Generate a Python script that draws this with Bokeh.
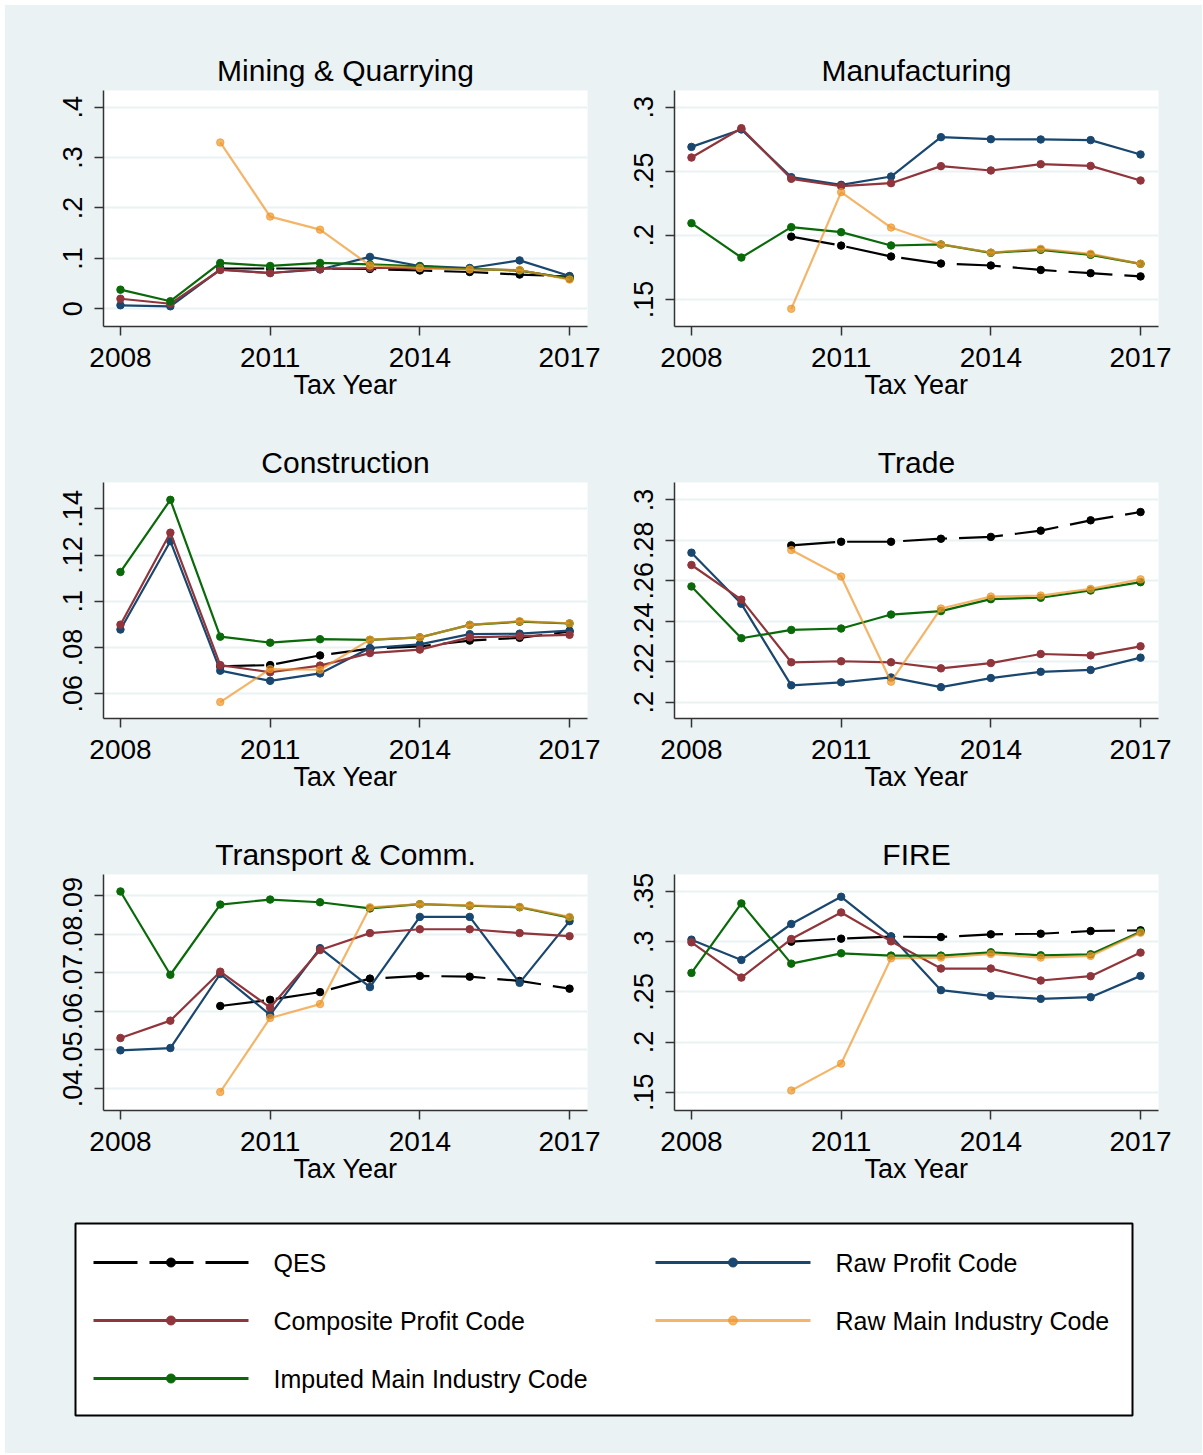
import numpy as np
from bokeh.plotting import figure
from bokeh.layouts import column, row
from bokeh.models import Range1d, FixedTicker, CustomJSTickFormatter, ColumnDataSource
from bokeh.core.properties import value
from bokeh.embed import file_html
from bokeh.resources import INLINE

# ---------------- data ----------------
years = [2008, 2009, 2010, 2011, 2012, 2013, 2014, 2015, 2016, 2017]
x_ticks = [2008, 2011, 2014, 2017]
series_names = ["QES", "Raw Profit Code", "Composite Profit Code",
                "Raw Main Industry Code", "Imputed Main Industry Code"]
panel_titles = ["Mining & Quarrying", "Manufacturing", "Construction",
                "Trade", "Transport & Comm.", "FIRE"]
x_title = "Tax Year"

mining_qes = [None, None, 0.080, 0.080, 0.080, 0.079, 0.076, 0.073, 0.068, 0.064]
mining_raw_profit = [0.007, 0.005, 0.078, 0.071, 0.078, 0.103, 0.085, 0.081, 0.096, 0.065]
mining_composite = [0.020, 0.010, 0.077, 0.071, 0.079, 0.081, 0.081, 0.079, 0.076, 0.060]
mining_raw_main = [None, None, 0.330, 0.183, 0.157, 0.086, 0.081, 0.078, 0.077, 0.058]
mining_imputed = [0.038, 0.015, 0.091, 0.085, 0.091, 0.088, 0.084, 0.079, 0.076, 0.060]

manuf_qes = [None, None, 0.199, 0.192, 0.1835, 0.178, 0.1765, 0.173, 0.1705, 0.168]
manuf_raw_profit = [0.269, 0.2826, 0.2454, 0.2394, 0.2459, 0.2766, 0.2750, 0.2748, 0.2743, 0.2631]
manuf_composite = [0.2607, 0.2836, 0.2441, 0.2384, 0.2407, 0.2540, 0.2506, 0.2555, 0.2542, 0.2428]
manuf_raw_main = [None, None, 0.1427, 0.2337, 0.2061, 0.1929, 0.1866, 0.1895, 0.1856, 0.1778]
manuf_imputed = [0.2095, 0.1827, 0.2064, 0.2025, 0.1921, 0.1929, 0.1864, 0.1887, 0.1848, 0.1778]

constr_qes = [None, None, 0.0719, 0.0724, 0.0766, 0.0795, 0.0805, 0.0830, 0.0842, 0.0869]
constr_raw_profit = [0.0878, 0.1260, 0.0700, 0.0656, 0.0688, 0.0798, 0.0814, 0.0858, 0.0860, 0.0873]
constr_composite = [0.0899, 0.1297, 0.0724, 0.0693, 0.0722, 0.0776, 0.0791, 0.0844, 0.0849, 0.0855]
constr_raw_main = [None, None, 0.0564, 0.0707, 0.0704, 0.0834, 0.0844, 0.0898, 0.0914, 0.0905]
constr_imputed = [0.1127, 0.1439, 0.0847, 0.0821, 0.0836, 0.0833, 0.0844, 0.0898, 0.0912, 0.0904]

trade_qes = [None, None, 0.2775, 0.2793, 0.2793, 0.2808, 0.2817, 0.2848, 0.2899, 0.2940]
trade_raw_profit = [0.2739, 0.2486, 0.2083, 0.2098, 0.2122, 0.2074, 0.2119, 0.2150, 0.2159, 0.2220]
trade_composite = [0.2678, 0.2507, 0.2197, 0.2202, 0.2197, 0.2167, 0.2193, 0.2238, 0.2231, 0.2276]
trade_raw_main = [None, None, 0.2752, 0.2621, 0.2101, 0.2463, 0.2522, 0.2527, 0.2560, 0.2607]
trade_imputed = [0.2572, 0.2316, 0.2357, 0.2364, 0.2433, 0.2450, 0.2509, 0.2516, 0.2552, 0.2593]

transp_qes = [None, None, 0.0614, 0.0630, 0.0650, 0.0685, 0.0692, 0.0690, 0.0679, 0.0659]
transp_raw_profit = [0.0499, 0.0505, 0.0697, 0.0591, 0.0764, 0.0663, 0.0845, 0.0845, 0.0674, 0.0834]
transp_composite = [0.0531, 0.0576, 0.0703, 0.0610, 0.0759, 0.0803, 0.0813, 0.0813, 0.0803, 0.0795]
transp_raw_main = [None, None, 0.0391, 0.0583, 0.0619, 0.0870, 0.0878, 0.0875, 0.0871, 0.0845]
transp_imputed = [0.0911, 0.0695, 0.0877, 0.0890, 0.0883, 0.0867, 0.0878, 0.0874, 0.0870, 0.0843]

fire_qes = [None, None, 0.3000, 0.3030, 0.3050, 0.3046, 0.3073, 0.3079, 0.3106, 0.3113]
fire_raw_profit = [0.3020, 0.2818, 0.3176, 0.3447, 0.3053, 0.2517, 0.2460, 0.2430, 0.2447, 0.2659]
fire_composite = [0.2993, 0.2642, 0.3026, 0.3291, 0.3003, 0.2732, 0.2732, 0.2613, 0.2656, 0.2891]
fire_raw_main = [None, None, 0.1517, 0.1785, 0.2834, 0.2841, 0.2877, 0.2841, 0.2858, 0.3089]
fire_imputed = [0.2689, 0.3381, 0.2781, 0.2884, 0.2861, 0.2861, 0.2894, 0.2864, 0.2874, 0.3099]

mining_yticks = [0, 0.1, 0.2, 0.3, 0.4]
manuf_yticks = [0.15, 0.2, 0.25, 0.3]
constr_yticks = [0.06, 0.08, 0.1, 0.12, 0.14]
trade_yticks = [0.2, 0.22, 0.24, 0.26, 0.28, 0.3]
transp_yticks = [0.04, 0.05, 0.06, 0.07, 0.08, 0.09]
fire_yticks = [0.15, 0.2, 0.25, 0.3, 0.35]

panels = [
    (panel_titles[0], [mining_qes, mining_raw_profit, mining_composite, mining_raw_main, mining_imputed], mining_yticks, (-0.0351, 0.4331)),
    (panel_titles[1], [manuf_qes, manuf_raw_profit, manuf_composite, manuf_raw_main, manuf_imputed], manuf_yticks, (0.1289, 0.3130)),
    (panel_titles[2], [constr_qes, constr_raw_profit, constr_composite, constr_raw_main, constr_imputed], constr_yticks, (0.0493, 0.1514)),
    (panel_titles[3], [trade_qes, trade_raw_profit, trade_composite, trade_raw_main, trade_imputed], trade_yticks, (0.1919, 0.3086)),
    (panel_titles[4], [transp_qes, transp_raw_profit, transp_composite, transp_raw_main, transp_imputed], transp_yticks, (0.0343, 0.0955)),
    (panel_titles[5], [fire_qes, fire_raw_profit, fire_composite, fire_raw_main, fire_imputed], fire_yticks, (0.1318, 0.3669)),
]

# ---------------- styles ----------------
BG = "#eaf2f3"
FONT = "Liberation Sans"
styles = {
    "QES": dict(color="black", alpha=1.0, dash="44 12"),
    "Raw Profit Code": dict(color="#1a476f", alpha=1.0, dash="solid"),
    "Composite Profit Code": dict(color="#90353b", alpha=1.0, dash="solid"),
    "Raw Main Industry Code": dict(color="#f0962a", alpha=0.7, dash="solid"),
    "Imputed Main Industry Code": dict(color="#0a6a0a", alpha=1.0, dash="solid"),
}
draw_order = [0, 1, 2, 4, 3]

yfmt_code = """
let s = (Math.round(tick*1000)/1000).toString();
if (s.startsWith('0.')) { s = s.slice(1); }
return s;
"""


def make_panel(title, series, yticks, yr, left_border, right_border, top_border):
    p = figure(frame_width=484, frame_height=236,
               min_border_left=left_border, min_border_right=right_border,
               min_border_top=top_border, min_border_bottom=79,
               x_range=Range1d(2007.66, 2017.36), y_range=Range1d(*yr),
               output_backend="svg", toolbar_location=None, title=title)
    p.background_fill_color = "white"
    p.border_fill_color = BG
    p.outline_line_color = None
    p.title.text_font = FONT
    p.title.text_font_size = "30px"
    p.title.text_font_style = "normal"
    p.title.text_color = "black"
    p.title.align = "center"
    p.title.standoff = 7

    p.xgrid.grid_line_color = None
    p.ygrid.grid_line_color = BG
    p.ygrid.grid_line_width = 2

    xa = p.xaxis[0]
    xa.ticker = FixedTicker(ticks=x_ticks)
    xa.axis_label = x_title
    xa.axis_label_text_font = FONT
    xa.axis_label_text_font_size = "27px"
    xa.axis_label_text_font_style = "normal"
    xa.axis_label_text_color = "black"
    xa.axis_label_standoff = 0
    xa.major_label_text_font = FONT
    xa.major_label_text_font_size = "28px"
    xa.major_label_text_color = "black"
    xa.major_label_standoff = 12
    xa.major_tick_out = 9
    xa.major_tick_in = 0
    xa.minor_tick_line_color = None
    xa.axis_line_color = "#333333"
    xa.axis_line_width = 1.5
    xa.major_tick_line_color = "#333333"
    xa.major_tick_line_width = 1.5

    ya = p.yaxis[0]
    ya.ticker = FixedTicker(ticks=yticks)
    ya.formatter = CustomJSTickFormatter(code=yfmt_code)
    ya.major_label_orientation = "vertical"
    ya.major_label_text_font = FONT
    ya.major_label_text_font_size = "27px"
    ya.major_label_text_color = "black"
    ya.major_label_standoff = 12
    ya.major_tick_out = 9
    ya.major_tick_in = 0
    ya.minor_tick_line_color = None
    ya.axis_line_color = "#333333"
    ya.axis_line_width = 1.5
    ya.major_tick_line_color = "#333333"
    ya.major_tick_line_width = 1.5

    for i in draw_order:
        name = series_names[i]
        st = styles[name]
        yv = np.array([np.nan if v is None else v for v in series[i]], dtype=float)
        src = ColumnDataSource(dict(x=years, y=yv))
        p.line("x", "y", source=src, line_color=st["color"], line_alpha=st["alpha"],
               line_width=2.2, line_dash=st["dash"])
        p.scatter("x", "y", source=src, size=7.5, fill_color=st["color"],
                  line_color=st["color"], fill_alpha=st["alpha"], line_alpha=st["alpha"])
    return p


figs = []
for k, (title, series, yticks, yr) in enumerate(panels):
    top = 85 if k < 2 else 77
    if k % 2 == 0:
        figs.append(make_panel(title, series, yticks, yr, 98, 15, top))
    else:
        figs.append(make_panel(title, series, yticks, yr, 72, 44, top))

# ---------------- legend ----------------
LW, LH = 1197, 264
leg = figure(width=LW, height=LH, x_range=Range1d(0, LW), y_range=Range1d(LH, 0),
             output_backend="svg", toolbar_location=None,
             min_border=0, min_border_left=0, min_border_right=0,
             min_border_top=0, min_border_bottom=0)
leg.axis.visible = False
leg.grid.visible = False
leg.outline_line_color = None
leg.background_fill_color = BG
leg.border_fill_color = BG

leg.quad(left=[70], right=[1127], top=[34], bottom=[226], fill_color="white",
         line_color="black", line_width=2)

col_x = [88, 650]
row_y = [73, 131, 189]
for i, name in enumerate(series_names):
    st = styles[name]
    cx = col_x[i % 2]
    cy = row_y[i // 2]
    leg.line([cx, cx + 155], [cy, cy], line_color=st["color"], line_alpha=st["alpha"],
             line_width=3, line_dash=st["dash"])
    leg.scatter([cx + 77.5], [cy], size=9, fill_color=st["color"], line_color=st["color"],
                fill_alpha=st["alpha"], line_alpha=st["alpha"])
    leg.text([cx + 180], [cy], text=[name], text_font=value(FONT), text_font_size="25px",
             text_baseline="middle", text_align="left", text_color="black")

rows = [row(figs[0], figs[1], styles={"background-color": BG}),
        row(figs[2], figs[3], styles={"background-color": BG}),
        row(figs[4], figs[5], styles={"background-color": BG})]
layout = column(*rows, leg, styles={"background-color": BG})
layout.margin = (5, 0, 0, 5)

open("out.html", "w").write(file_html(layout, INLINE))
